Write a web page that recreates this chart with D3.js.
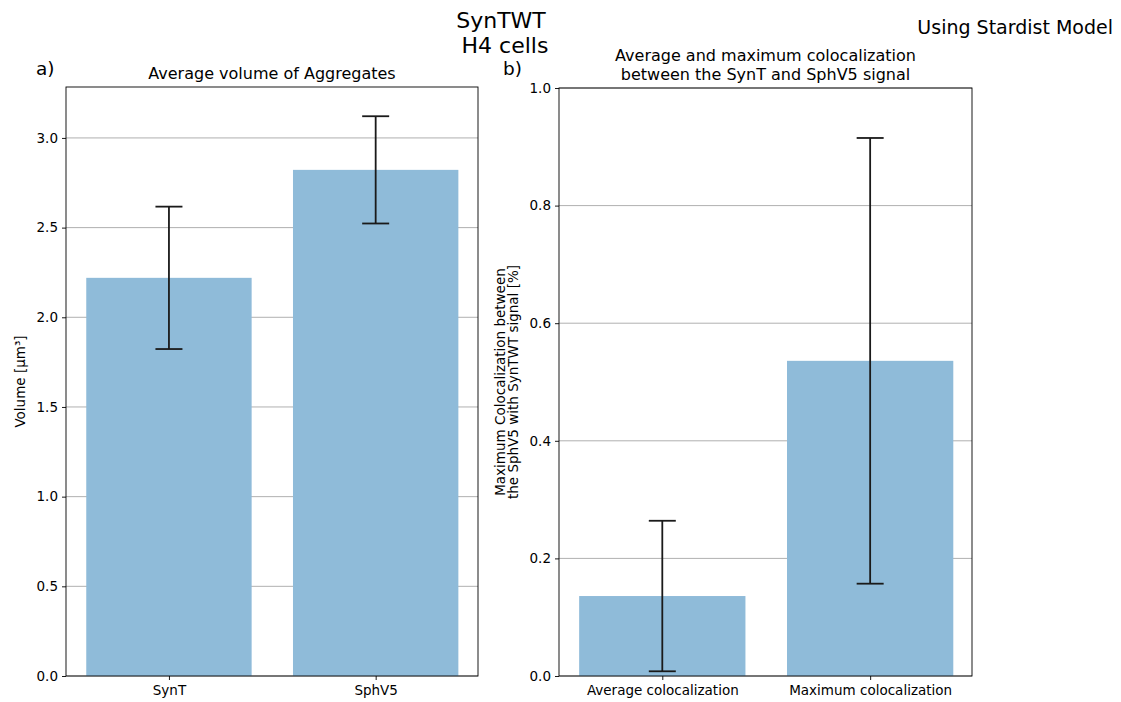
<!DOCTYPE html>
<html>
<head>
<meta charset="utf-8">
<style>
  body { margin: 0; background: #fff; }
  text { font-family: "DejaVu Sans", sans-serif; fill: #000; }
</style>
</head>
<body>
<svg width="1121" height="702"></svg>
<script src="https://d3js.org/d3.v7.min.js"></script>
<script>
// panel a) - volume
var volCats = ["SynT", "SphV5"];
var volMeans = [2.22, 2.822];
var volErr = [0.397, 0.299];
var volTicks = [0.0, 0.5, 1.0, 1.5, 2.0, 2.5, 3.0];

// panel b) - colocalization
var colCats = ["Average colocalization", "Maximum colocalization"];
var colMeans = [0.136, 0.536];
var colErr = [0.128, 0.379];
var colTicks = [0.0, 0.2, 0.4, 0.6, 0.8, 1.0];

var svg = d3.select("svg");
var barColor = "#8fbbd9";

function panel(opt) {
  var g = svg.append("g").attr("transform", "translate(" + opt.left + "," + opt.top + ")");
  var w = opt.width, h = opt.height;

  // categorical positions like matplotlib: index -> pixel, bar width 0.8
  var x = d3.scaleLinear().domain(opt.xdomain).range([0, w]);
  var y = d3.scaleLinear().domain(opt.ydomain).range([h, 0]);

  // grid
  g.append("g").selectAll("line")
    .data(opt.ticks)
    .join("line")
    .attr("x1", 0).attr("x2", w)
    .attr("y1", function(d) { return y(d); })
    .attr("y2", function(d) { return y(d); })
    .attr("stroke", "#b0b0b0")
    .attr("stroke-width", 1);

  // bars
  g.append("g").selectAll("rect")
    .data(opt.means)
    .join("rect")
    .attr("x", function(d, i) { return x(i - 0.4); })
    .attr("width", x(0.4) - x(-0.4))
    .attr("y", function(d) { return y(d); })
    .attr("height", function(d) { return h - y(d); })
    .attr("fill", barColor);

  // error bars
  var eb = g.append("g").selectAll("g")
    .data(opt.means)
    .join("g");
  eb.append("line")
    .attr("x1", function(d, i) { return x(i); })
    .attr("x2", function(d, i) { return x(i); })
    .attr("y1", function(d, i) { return y(d - opt.err[i]); })
    .attr("y2", function(d, i) { return y(d + opt.err[i]); })
    .attr("stroke", "#1a1a1a").attr("stroke-width", 1.8);
  [-1, 1].forEach(function(s) {
    eb.append("line")
      .attr("x1", function(d, i) { return x(i) - 13.5; })
      .attr("x2", function(d, i) { return x(i) + 13.5; })
      .attr("y1", function(d, i) { return y(d + s * opt.err[i]); })
      .attr("y2", function(d, i) { return y(d + s * opt.err[i]); })
      .attr("stroke", "#1a1a1a").attr("stroke-width", 1.8);
  });

  // axes
  var yAxis = d3.axisLeft(y).tickValues(opt.ticks).tickFormat(d3.format(".1f")).tickSize(4).tickPadding(4);
  var ya = g.append("g").call(yAxis);
  var xAxis = d3.axisBottom(x).tickValues(d3.range(opt.cats.length))
    .tickFormat(function(i) { return opt.cats[i]; }).tickSize(4).tickPadding(5);
  var xa = g.append("g").attr("transform", "translate(0," + h + ")").call(xAxis);
  [ya, xa].forEach(function(a) {
    a.select(".domain").remove();
    a.selectAll("text").attr("font-size", 13.5).attr("font-family", "DejaVu Sans").attr("fill", "#222");
    a.selectAll("line").attr("stroke", "#000").attr("stroke-width", 0.9);
  });

  // frame
  g.append("rect").attr("width", w).attr("height", h)
    .attr("fill", "none").attr("stroke", "#000").attr("stroke-width", 0.9);

  // title
  var t = g.append("text").attr("text-anchor", "middle").attr("font-size", 16)
    .attr("x", w / 2).attr("y", -8);
  opt.title.forEach(function(line, i) {
    t.append("tspan").attr("x", w / 2).attr("dy", i === 0 ? -(opt.title.length - 1) * 19 : 19).text(line);
  });

  // y label
  var yl = g.append("text").attr("text-anchor", "middle").attr("font-size", 13.5)
    .attr("transform", "translate(" + opt.ylabelX + "," + (h / 2) + ") rotate(-90)");
  opt.ylabel.forEach(function(line, i) {
    yl.append("tspan").attr("x", 0).attr("dy", i === 0 ? 0 : 13).text(line);
  });

  // panel letter
  svg.append("text").attr("x", opt.letterX).attr("y", 75).attr("font-size", 18.5).text(opt.letter);
}

panel({
  left: 66, top: 87, width: 412, height: 589,
  xdomain: [-0.498, 1.495],
  cats: volCats, means: volMeans, err: volErr, ticks: volTicks,
  ydomain: [0, 3.284],
  title: ["Average volume of Aggregates"],
  ylabel: ["Volume [µm³]"], ylabelX: -41,
  letter: "a)", letterX: 36
});

panel({
  left: 559, top: 88, width: 413, height: 588,
  xdomain: [-0.497, 1.49],
  cats: colCats, means: colMeans, err: colErr, ticks: colTicks,
  ydomain: [0, 1],
  title: ["Average and maximum colocalization", "between the SynT and SphV5 signal"],
  ylabel: ["Maximum Colocalization between", "the SphV5 with SynTWT signal [%]"], ylabelX: -54,
  letter: "b)", letterX: 503
});

// figure titles, one text per line
svg.append("text").attr("text-anchor", "middle").attr("font-size", 22)
  .attr("x", 501).attr("y", 28).text("SynTWT");
svg.append("text").attr("text-anchor", "middle").attr("font-size", 22)
  .attr("x", 505).attr("y", 53).text("H4 cells");
svg.append("text").attr("x", 1113).attr("y", 34).attr("text-anchor", "end")
  .attr("font-size", 19).text("Using Stardist Model");
</script>
</body>
</html>
